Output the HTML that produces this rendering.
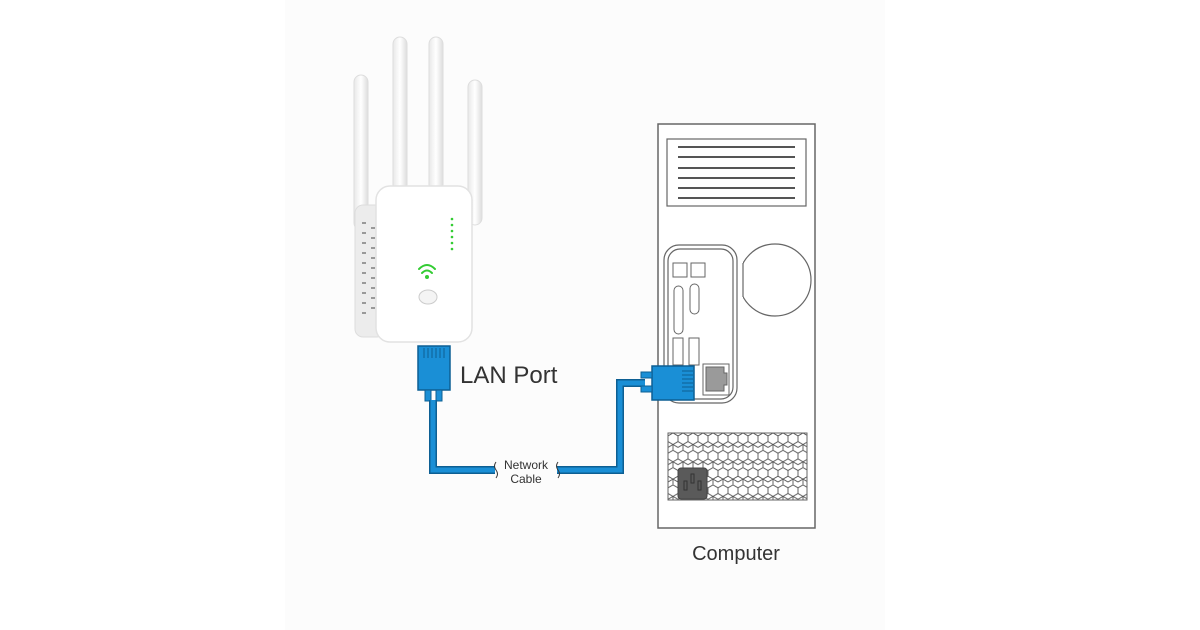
<!DOCTYPE html>
<html><head><style>
html,body{margin:0;padding:0;background:#fff;}
svg{display:block;font-family:"Liberation Sans",sans-serif;}
</style></head><body>
<svg width="1200" height="630" viewBox="0 0 1200 630" xmlns="http://www.w3.org/2000/svg">
<defs>
<pattern id="hex" x="668" y="433" width="10" height="17.3" patternUnits="userSpaceOnUse">
<path d="M0,2.9 L5,0 L10,2.9 L10,8.6 L5,11.5 L0,8.6 Z M5,11.5 L5,17.3 M0,8.6 L0,2.9" stroke="#555" stroke-width="0.9" fill="none"/>
<path d="M5,11.5 L10,14.4 M5,11.5 L0,14.4" stroke="#555" stroke-width="0.9" fill="none"/>
</pattern>
<linearGradient id="ant" x1="0" x2="1"><stop offset="0" stop-color="#e8e8e8"/><stop offset="0.5" stop-color="#fff"/><stop offset="1" stop-color="#ddd"/></linearGradient>
<clipPath id="fanclip"><rect x="743" y="230" width="80" height="120"/></clipPath>
</defs>
<rect x="285" y="0" width="600" height="630" fill="#fcfcfc"/>
<rect x="354" y="75" width="14" height="155" rx="7" fill="url(#ant)" stroke="#ddd"/>
<rect x="393" y="37" width="14" height="155" rx="7" fill="url(#ant)" stroke="#ddd"/>
<rect x="429" y="37" width="14" height="155" rx="7" fill="url(#ant)" stroke="#ddd"/>
<rect x="468" y="80" width="14" height="145" rx="7" fill="url(#ant)" stroke="#ddd"/>
<rect x="355" y="205" width="30" height="132" rx="8" fill="#ececec" stroke="#ddd"/>
<g fill="#999">
<rect x="362" y="222" width="4" height="2"/><rect x="362" y="232" width="4" height="2"/><rect x="362" y="242" width="4" height="2"/><rect x="362" y="252" width="4" height="2"/><rect x="362" y="262" width="4" height="2"/><rect x="362" y="272" width="4" height="2"/><rect x="362" y="282" width="4" height="2"/><rect x="362" y="292" width="4" height="2"/><rect x="362" y="302" width="4" height="2"/><rect x="362" y="312" width="4" height="2"/>
<rect x="371" y="227" width="4" height="2"/><rect x="371" y="237" width="4" height="2"/><rect x="371" y="247" width="4" height="2"/><rect x="371" y="257" width="4" height="2"/><rect x="371" y="267" width="4" height="2"/><rect x="371" y="277" width="4" height="2"/><rect x="371" y="287" width="4" height="2"/><rect x="371" y="297" width="4" height="2"/><rect x="371" y="307" width="4" height="2"/>
</g>
<rect x="376" y="186" width="96" height="156" rx="14" fill="#fff" stroke="#e2e2e2" stroke-width="1.5"/>
<g fill="#3c3">
<circle cx="452" cy="219" r="1.3"/><circle cx="452" cy="225" r="1.3"/><circle cx="452" cy="231" r="1.3"/><circle cx="452" cy="237" r="1.3"/><circle cx="452" cy="243" r="1.3"/><circle cx="452" cy="249" r="1.3"/>
</g>
<g fill="none" stroke="#3c3" stroke-width="2" stroke-linecap="round">
<path d="M419,269 Q427,261 435,269"/><path d="M422,273 Q427,268 432,273"/>
</g>
<circle cx="427" cy="277" r="2" fill="#3c3"/>
<ellipse cx="428" cy="297" rx="9" ry="7" fill="#f4f4f4" stroke="#ccc"/>
<rect x="418" y="346" width="32" height="44" fill="#1a8fd6" stroke="#0d5f93" stroke-width="1.5"/>
<g stroke="#0d5f93" stroke-width="1"><line x1="424" y1="348" x2="424" y2="358"/><line x1="428" y1="348" x2="428" y2="358"/><line x1="432" y1="348" x2="432" y2="358"/><line x1="436" y1="348" x2="436" y2="358"/><line x1="440" y1="348" x2="440" y2="358"/><line x1="444" y1="348" x2="444" y2="358"/></g>
<rect x="425" y="390" width="6" height="11" fill="#1a8fd6" stroke="#0d5f93"/>
<rect x="436" y="390" width="6" height="11" fill="#1a8fd6" stroke="#0d5f93"/>
<text x="460" y="383" font-size="24" fill="#333">LAN Port</text>
<path d="M433,400 L433,470 L495,470 M557,470 L620,470 L620,383 L645,383" fill="none" stroke="#0d5f93" stroke-width="8"/>
<path d="M433,400 L433,470 L495,470 M557,470 L620,470 L620,383 L645,383" fill="none" stroke="#1a8fd6" stroke-width="5"/>
<text x="526" y="469" font-size="12" fill="#333" text-anchor="middle">Network</text>
<text x="526" y="483" font-size="12" fill="#333" text-anchor="middle">Cable</text>
<path d="M496,462 q-3,4 0,8 q3,4 0,8" fill="none" stroke="#333"/>
<path d="M558,462 q-3,4 0,8 q3,4 0,8" fill="none" stroke="#333"/>
<rect x="658" y="124" width="157" height="404" fill="#fff" stroke="#666" stroke-width="1.5"/>
<rect x="667" y="139" width="139" height="67" fill="#fff" stroke="#666" stroke-width="1.2"/>
<g stroke="#555" stroke-width="2"><line x1="678" y1="147" x2="795" y2="147"/><line x1="678" y1="157" x2="795" y2="157"/><line x1="678" y1="168" x2="795" y2="168"/><line x1="678" y1="178" x2="795" y2="178"/><line x1="678" y1="188" x2="795" y2="188"/><line x1="678" y1="198" x2="795" y2="198"/></g>
<rect x="664" y="245" width="73" height="158" rx="15" fill="none" stroke="#666" stroke-width="1.2"/>
<rect x="668" y="249" width="65" height="150" rx="12" fill="none" stroke="#666" stroke-width="1.2"/>
<rect x="673" y="263" width="14" height="14" fill="none" stroke="#666"/>
<rect x="691" y="263" width="14" height="14" fill="none" stroke="#666"/>
<rect x="674" y="286" width="9" height="48" rx="4.5" fill="none" stroke="#666"/>
<rect x="690" y="284" width="9" height="30" rx="4.5" fill="none" stroke="#666"/>
<rect x="673" y="338" width="10" height="27" fill="none" stroke="#666"/>
<rect x="689" y="338" width="10" height="27" fill="none" stroke="#666"/>
<rect x="703" y="364" width="26" height="31" fill="#fff" stroke="#666"/>
<path d="M706,367 h18 v6 h3 v12 h-3 v6 h-18 z" fill="#9a9a9a" stroke="#666"/>
<circle cx="775" cy="280" r="36" fill="none" stroke="#666" stroke-width="1.2" clip-path="url(#fanclip)"/>
<line x1="743" y1="263" x2="743" y2="297" stroke="#666" stroke-width="1.2"/>
<rect x="668" y="433" width="139" height="67" fill="url(#hex)" stroke="#666"/>
<rect x="678" y="468" width="29" height="31" rx="3" fill="#5a5a5a" stroke="#444"/>
<g fill="none" stroke="#333"><rect x="684" y="481" width="3" height="9"/><rect x="691" y="474" width="3" height="9"/><rect x="698" y="481" width="3" height="9"/></g>
<rect x="652" y="366" width="42" height="34" fill="#1a8fd6" stroke="#0d5f93" stroke-width="1.5"/>
<g stroke="#0d5f93"><line x1="682" y1="371" x2="693" y2="371"/><line x1="682" y1="375" x2="693" y2="375"/><line x1="682" y1="379" x2="693" y2="379"/><line x1="682" y1="383" x2="693" y2="383"/><line x1="682" y1="387" x2="693" y2="387"/><line x1="682" y1="391" x2="693" y2="391"/></g>
<rect x="641" y="372" width="11" height="6" fill="#1a8fd6" stroke="#0d5f93"/>
<rect x="641" y="386" width="11" height="6" fill="#1a8fd6" stroke="#0d5f93"/>
<text x="736" y="560" font-size="20" fill="#333" text-anchor="middle">Computer</text>
</svg>
</body></html>
